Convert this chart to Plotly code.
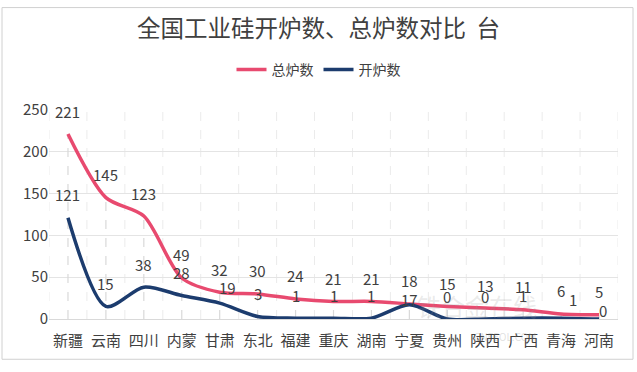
import plotly.graph_objects as go

categories = ["新疆", "云南", "四川", "内蒙", "甘肃", "东北", "福建", "重庆", "湖南", "宁夏", "贵州", "陕西", "广西", "青海", "河南"]
total_furnaces = [221, 145, 123, 49, 32, 30, 24, 21, 21, 18, 15, 13, 11, 6, 5]
open_furnaces = [121, 15, 38, 28, 19, 3, 1, 1, 1, 17, 0, 0, 1, 1, 0]
y_ticks = [0, 50, 100, 150, 200, 250]

FONT = "Noto Sans CJK SC, Microsoft YaHei, sans-serif"
PINK = "#E84A6F"
NAVY = "#1C3C6E"
TXT = "#404040"

# label nudges (pixel offsets, style only) used where labels collide in the original
LABEL_NUDGE = {
    ("open", "甘肃"): (8, 16),
    ("open", "宁夏"): (0, 5),
    ("open", "青海"): (12, 19),
    ("open", "河南"): (4, 9),
}

fig = go.Figure()

# drop lines from each category's max value down to the axis
for c, t in zip(categories, total_furnaces):
    fig.add_trace(go.Scatter(x=[c, c], y=[0, t], mode="lines",
                             line=dict(color="#D9D9D9", width=1.2, dash="dash"),
                             showlegend=False, hoverinfo="skip"))

fig.add_trace(go.Scatter(x=categories, y=total_furnaces, name="总炉数", mode="lines",
                         line=dict(color=PINK, width=3.5, shape="spline", smoothing=0.8)))
fig.add_trace(go.Scatter(x=categories, y=open_furnaces, name="开炉数", mode="lines",
                         line=dict(color=NAVY, width=3.5, shape="spline", smoothing=0.8)))

for key, series in (("total", total_furnaces), ("open", open_furnaces)):
    for c, v in zip(categories, series):
        dx, dy = LABEL_NUDGE.get((key, c), (0, 23))
        fig.add_annotation(x=c, y=v, text=str(v), showarrow=False, yanchor="middle",
                           xshift=dx, yshift=dy,
                           font=dict(size=15, color=TXT, family=FONT))

fig.update_layout(
    width=637, height=372,
    margin=dict(l=49, r=19, t=106, b=53),
    paper_bgcolor="white", plot_bgcolor="white",
    font=dict(family=FONT, color=TXT),
    title=dict(text="全国工业硅开炉数、总炉数对比  台", x=0.5, xanchor="center", xref="container",
               yref="container", y=1 - 29/372, yanchor="middle",
               font=dict(size=23.5, color=TXT, family=FONT)),
    legend=dict(orientation="h", xref="container", x=0.5, xanchor="center",
                yref="container", y=1 - 70/372, yanchor="middle",
                font=dict(size=14, color=TXT, family=FONT), traceorder="normal"),
    showlegend=True,
)
fig.update_xaxes(type="category", range=[-0.5, len(categories) - 0.5],
                 showgrid=False, showline=True, linecolor="#D9D9D9",
                 tickfont=dict(size=15, color=TXT, family=FONT), ticks="", ticklabelstandoff=8)
fig.update_yaxes(range=[0, 250], tickvals=y_ticks, showgrid=True, gridcolor="#E4E4E4",
                 zeroline=False, showline=False,
                 tickfont=dict(size=15, color=TXT, family=FONT))

# light dashed vertical gridlines at category boundaries
for i in range(len(categories) + 1):
    fig.add_shape(type="line", xref="x", yref="paper", x0=i - 0.5, x1=i - 0.5, y0=0, y1=1,
                  line=dict(color="#EBEBEB", width=1, dash="dash"), layer="below")

# outer border
fig.add_shape(type="rect", xref="paper", yref="paper", x0=-47/569, x1=1 + 15/569, y0=-41/213, y1=1 + 104/213,
              line=dict(color="#D0D0D0", width=1))

# watermark
fig.add_annotation(text="铁合金在线", xref="paper", yref="paper", x=0.861, y=-0.028, showarrow=False,
                   font=dict(size=24, color="rgba(150,150,150,0.2)", family=FONT))
fig.add_annotation(text="CNFEOL.COM", xref="paper", yref="paper", x=0.86, y=-0.131, showarrow=False,
                   font=dict(size=10, color="rgba(150,150,150,0.3)", family=FONT))

fig.write_html("out.html", config={"displayModeBar": False},
               post_script="document.body.style.margin='0';")
